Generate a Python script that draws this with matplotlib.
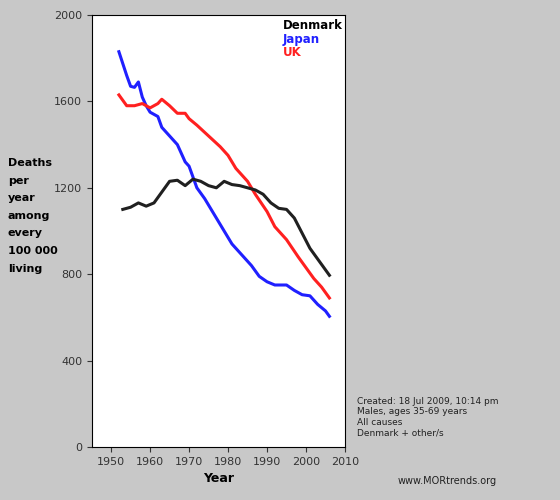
import matplotlib
matplotlib.use("Agg")
import matplotlib.pyplot as plt

jp_years = [1952,1954,1955,1956,1957,1958,1959,1960,1962,1963,1965,1967,1969,1970,1972,1974,1976,1979,1981,1984,1986,1988,1990,1992,1995,1997,1999,2001,2003,2005,2006]
jp_vals = [1830,1720,1670,1665,1690,1620,1580,1550,1530,1480,1440,1400,1320,1300,1200,1150,1090,1000,940,880,840,790,765,750,750,725,705,700,660,630,605]
uk_years = [1952,1954,1956,1958,1960,1962,1963,1965,1967,1969,1970,1972,1975,1978,1980,1982,1985,1987,1990,1992,1995,1998,2000,2002,2004,2006]
uk_vals = [1630,1580,1580,1590,1570,1590,1610,1580,1545,1545,1520,1490,1440,1390,1350,1290,1230,1170,1090,1020,960,880,830,780,740,690]
dk_years = [1953,1955,1957,1959,1961,1963,1965,1967,1969,1971,1973,1975,1977,1979,1981,1983,1985,1987,1989,1991,1993,1995,1997,1999,2001,2003,2005,2006]
dk_vals = [1100,1110,1130,1115,1130,1180,1230,1235,1210,1240,1230,1210,1200,1230,1215,1210,1200,1190,1170,1130,1105,1100,1060,990,920,870,820,795]

fig = plt.figure(figsize=(5.6,5.0), dpi=100, facecolor="#c8c8c8")
ax = fig.add_axes([92/560, 1-447/500, 253/560, 432/500])
ax.plot(jp_years, jp_vals, color="#2020ff", lw=2.2)
ax.plot(uk_years, uk_vals, color="#ff2020", lw=2.2)
ax.plot(dk_years, dk_vals, color="#202020", lw=2.2)
ax.set_xlim(1945.1, 2010)
ax.set_ylim(0, 2000)
ax.set_xticks(range(1950, 2011, 10))
ax.set_yticks(range(0, 2001, 400))
ax.tick_params(labelsize=8, colors="#333333", labelcolor="#333333")
ax.set_xlabel("Year", fontsize=9, fontweight="bold")
for i, (t, c) in enumerate([("Denmark","black"),("Japan","#2020ff"),("UK","#ff2020")]):
    ax.text(0.755, 0.99-i*0.031, t, transform=ax.transAxes, color=c, fontsize=8.5, fontweight="bold", va="top")
fig.text(8/560, 1-158/500, "Deaths\nper\nyear\namong\nevery\n100 000\nliving", fontsize=8, fontweight="bold", va="top", linespacing=1.95)
fig.text(357/560, 1-397/500, "Created: 18 Jul 2009, 10:14 pm\nMales, ages 35-69 years\nAll causes\nDenmark + other/s", fontsize=6.5, va="top", color="#222222")
fig.text(398/560, 1-484/500, "www.MORtrends.org", fontsize=7, color="#222222")
fig.savefig("out.png", dpi=100, facecolor=fig.get_facecolor())
